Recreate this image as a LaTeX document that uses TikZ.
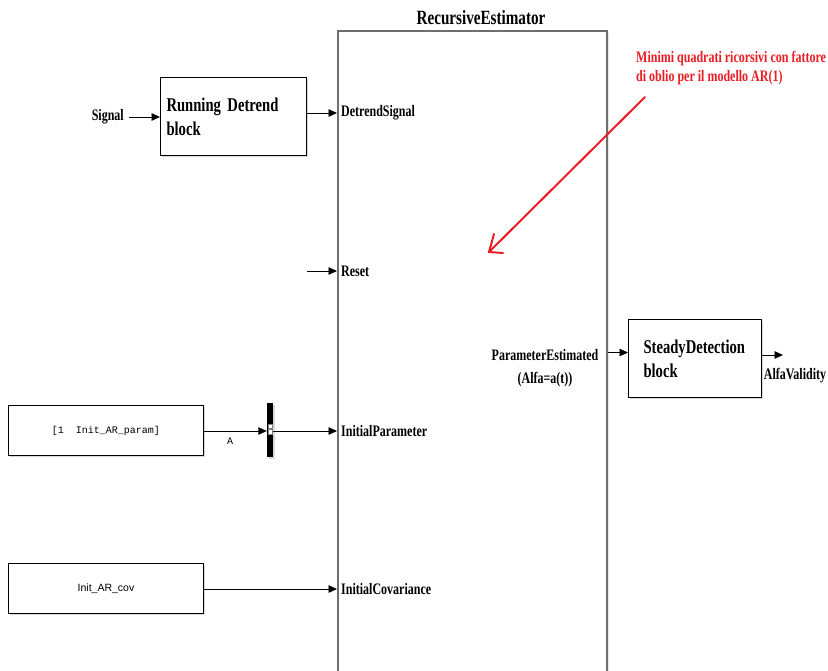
\documentclass[tikz,border=0pt]{standalone}
\usepackage{fontspec}
\setmainfont{Liberation Serif}
\newfontfamily\narrowserif[FakeStretch=0.75]{Liberation Serif}
\newfontfamily\codefont{Liberation Mono}
\newfontfamily\plainsans{Liberation Sans}
\usetikzlibrary{arrows.meta,shadows}

\definecolor{notered}{RGB}{236,28,36}
\definecolor{framegray}{RGB}{110,110,110}

% bold narrow face for block captions, with a tighter word space
\protected\def\blockfont{\narrowserif\bfseries\fontsize{19.5}{24}\selectfont\spaceskip=3pt\relax}

\tikzset{
  blk/.style={draw=black, line width=1pt, fill=white, inner ysep=0pt,
    drop shadow={shadow xshift=1.5pt, shadow yshift=-1.5pt, opacity=.3, fill=gray}},
  blktext/.style={font=\blockfont, align=left},
  sigarrow/.style={-{Triangle[length=8.5pt,width=7.5pt]}, line width=0.9pt},
  port/.style={font=\narrowserif\bfseries\fontsize{16}{23}\selectfont, anchor=west, inner sep=0pt},
  codetext/.style={font=\codefont\fontsize{10}{12}\selectfont},
  redpen/.style={draw=notered, line width=2pt, line cap=round, line join=round},
}

\begin{document}
\begin{tikzpicture}[x=1pt,y=-1pt]
  \fill[white] (0,0) rectangle (828,670);
  \useasboundingbox (0,0) rectangle (828,670);
  \clip (0,0) rectangle (828,670);

  % recursive estimator subsystem (runs past the lower edge)
  \node[draw=framegray, line width=2pt, fill=white, minimum width=269pt, minimum height=680pt,
        anchor=north west, inner sep=0pt,
        drop shadow={shadow xshift=2pt, shadow yshift=-2pt, opacity=.2, fill=gray}] (est) at (337,30) {};
  \node[font=\narrowserif\bfseries\fontsize{20.2}{22}\selectfont] (estname) at (481,18) {RecursiveEstimator};

  % input ports of the estimator
  \node[port] (pds) at (341,113) {DetrendSignal};
  \node[port] (prst) at (341,271) {Reset};
  \node[port] (pip) at (341,431) {InitialParameter};
  \node[port] (pic) at (341,589) {InitialCovariance};

  % detrending stage
  \node[blk, blktext, text width=134pt, inner xsep=6pt, minimum height=78pt, anchor=north west] (rd) at (160,77) {Running Detrend\\block};
  \node[port, anchor=east] (sig) at (124,117) {Signal};
  \draw[sigarrow] ([xshift=5pt]sig.east) -- (rd.west |- sig.east);
  \draw[sigarrow] (rd.east |- pds.west) -- (est.west |- pds.west);

  % reset input
  \coordinate (rstin) at (307,271);
  \draw[sigarrow] (rstin) -- (est.west |- prst.west);

  % initial parameter through the mux bar
  \node[blk, codetext, minimum width=195pt, minimum height=50pt, anchor=north west] (par) at (8,405) {[1~~Init\_AR\_param]};
  \node[fill=black, minimum width=6pt, minimum height=54pt, inner sep=0pt,
        drop shadow={shadow xshift=1.5pt, shadow yshift=-1.5pt, opacity=.3, fill=gray}] (mux) at (270,430) {};
  \fill[white, draw=gray, line width=0.4pt] (268.2,424) rectangle (271.8,428.5);
  \fill[white, draw=gray, line width=0.4pt] (268.2,429.5) rectangle (271.8,434);
  \draw[sigarrow] (par.east |- pip.west) -- (mux.west |- pip.west);
  \draw[sigarrow] (mux.east |- pip.west) -- (est.west |- pip.west);
  \node[codetext] (lblA) at (230,441) {A};

  % initial covariance
  \node[blk, font=\plainsans\fontsize{10.5}{12}\selectfont, minimum width=195pt, minimum height=50pt, anchor=north west] (cov) at (8,563) {Init\_AR\_cov};
  \draw[sigarrow] (cov.east |- pic.west) -- (est.west |- pic.west);

  % output and steady detection
  \node[port, anchor=center, align=center] (pest) at (545,368) {ParameterEstimated\\(Alfa=a(t))};
  \node[blk, blktext, text width=103pt, inner xsep=15pt, minimum height=78pt, anchor=north west] (sd) at (628,319) {SteadyDetection\\block};
  \draw[sigarrow] ([yshift=6pt]est.east |- sd.west) -- ([yshift=6pt]sd.west);
  \coordinate (avout) at (783,355);
  \draw[sigarrow] (sd.east |- avout) -- (avout);
  \node[port, anchor=center] (av) at (795,376) {AlfaValidity};

  % annotation
  \node[font=\narrowserif\bfseries\fontsize{16}{19}\selectfont, text=notered, align=left,
        anchor=west, inner sep=0pt] (note) at (636,68.5) {Minimi quadrati ricorsivi con fattore\\di oblio per il modello AR(1)};
  \coordinate (rtail) at (645,97);
  \coordinate (rtip) at (489,252);
  \draw[redpen] (rtail) -- (rtip);
  \draw[redpen] (494,234) -- (rtip) -- (503,253);
\end{tikzpicture}
\end{document}
